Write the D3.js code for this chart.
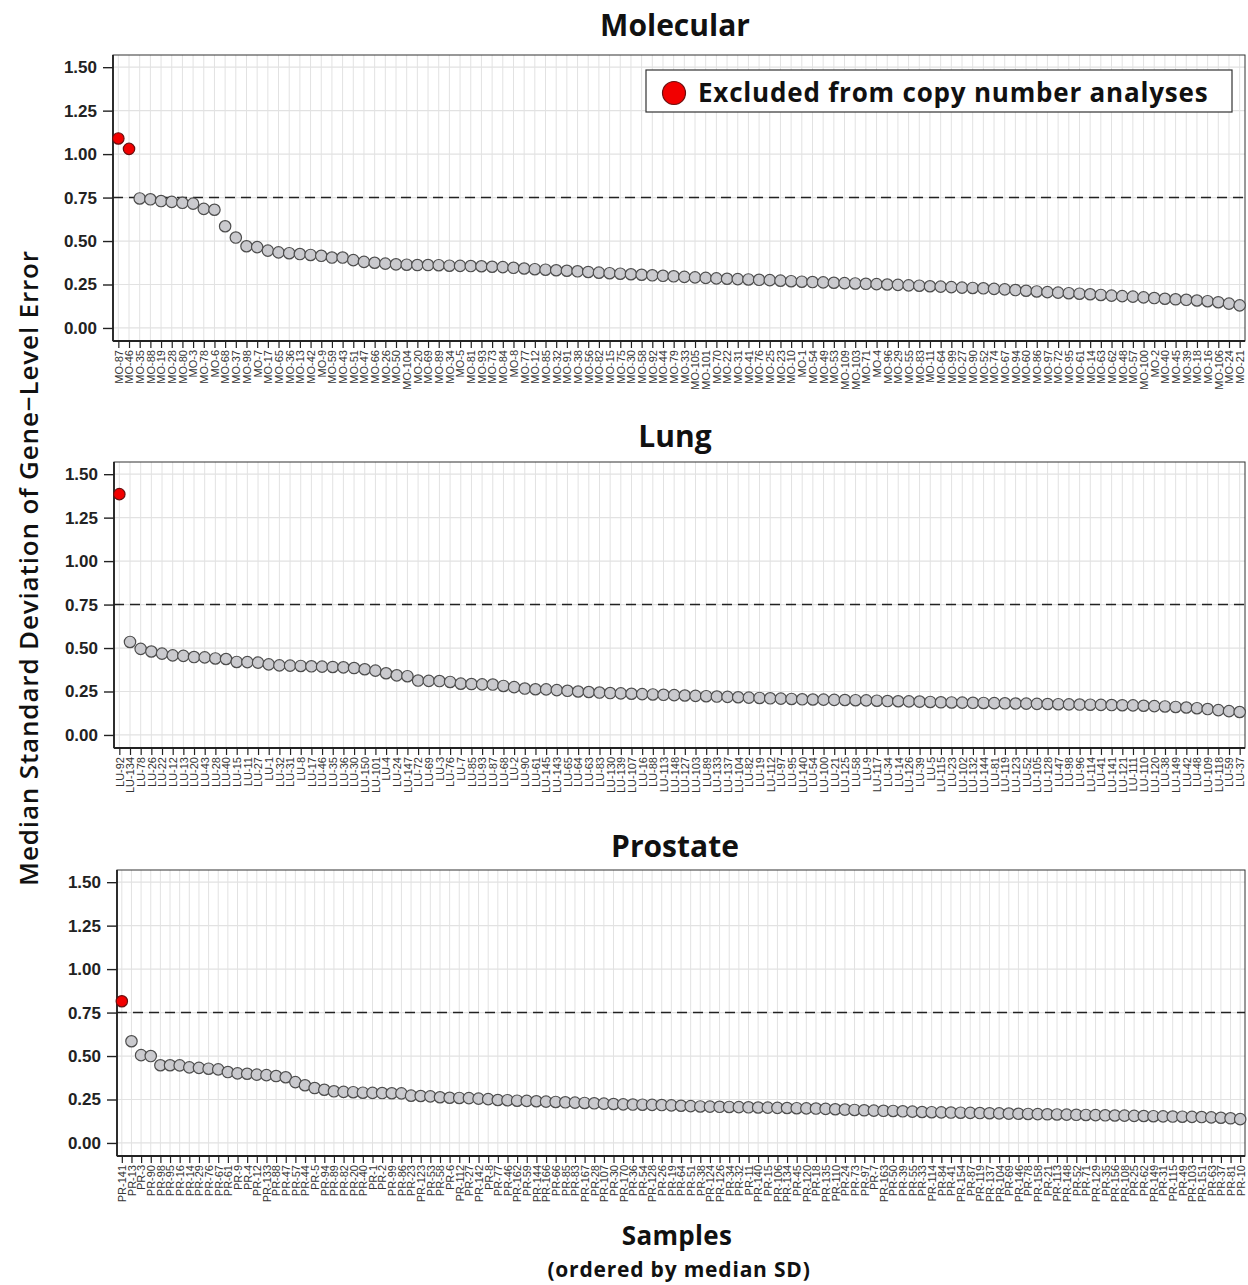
<!DOCTYPE html>
<html>
<head>
<meta charset="utf-8">
<script src="https://cdn.jsdelivr.net/npm/d3@7"></script>
<style>
  body { margin: 0; background: #fff; }
  svg { display: block; font-family: "Open Sans", sans-serif; }
</style>
</head>
<body>
<svg id="chart"></svg>
<script>
// ---- data ----
const moLabels = [
  'MO-87','MO-46','MO-35','MO-88','MO-19','MO-28','MO-80','MO-3','MO-78','MO-6',
  'MO-68','MO-37','MO-98','MO-7','MO-17','MO-65','MO-36','MO-13','MO-42','MO-9',
  'MO-59','MO-43','MO-51','MO-47','MO-66','MO-26','MO-50','MO-104','MO-20','MO-69',
  'MO-89','MO-34','MO-5','MO-81','MO-93','MO-73','MO-84','MO-8','MO-77','MO-12',
  'MO-85','MO-32','MO-91','MO-38','MO-56','MO-82','MO-15','MO-75','MO-30','MO-58',
  'MO-92','MO-44','MO-79','MO-33','MO-105','MO-101','MO-70','MO-22','MO-31','MO-41',
  'MO-76','MO-25','MO-23','MO-10','MO-1','MO-54','MO-49','MO-53','MO-109','MO-103',
  'MO-71','MO-4','MO-96','MO-29','MO-55','MO-83','MO-11','MO-64','MO-99','MO-27',
  'MO-90','MO-52','MO-74','MO-67','MO-94','MO-60','MO-86','MO-97','MO-72','MO-95',
  'MO-61','MO-14','MO-63','MO-62','MO-48','MO-57','MO-100','MO-2','MO-40','MO-45',
  'MO-39','MO-18','MO-16','MO-106','MO-24','MO-21'
];
const moValues = [
  1.09, 1.03, 0.745, 0.74, 0.73, 0.725, 0.72, 0.715, 0.685, 0.68,
  0.585, 0.52, 0.47, 0.465, 0.445, 0.435, 0.43, 0.425, 0.42, 0.415,
  0.405, 0.405, 0.39, 0.38, 0.375, 0.37, 0.366, 0.364, 0.362, 0.362,
  0.361, 0.358, 0.357, 0.356, 0.355, 0.352, 0.35, 0.346, 0.342, 0.338,
  0.335, 0.332, 0.329, 0.326, 0.322, 0.318, 0.315, 0.312, 0.309, 0.306,
  0.303, 0.300, 0.297, 0.294, 0.291, 0.288, 0.285, 0.283, 0.281, 0.279,
  0.277, 0.275, 0.272, 0.269, 0.266, 0.264, 0.262, 0.26, 0.258, 0.256,
  0.254, 0.252, 0.25, 0.248, 0.245, 0.243, 0.24, 0.238, 0.235, 0.232,
  0.23, 0.228, 0.225, 0.222, 0.218, 0.214, 0.21, 0.206, 0.203, 0.2,
  0.197, 0.194, 0.19, 0.186, 0.183, 0.18, 0.176, 0.172, 0.168, 0.165,
  0.162, 0.158, 0.154, 0.148, 0.14, 0.13
];

const luLabels = [
  'LU-92','LU-134','LU-78','LU-26','LU-22','LU-12','LU-13','LU-20','LU-43','LU-28',
  'LU-40','LU-15','LU-11','LU-27','LU-1','LU-32','LU-31','LU-8','LU-17','LU-46',
  'LU-35','LU-36','LU-30','LU-150','LU-101','LU-4','LU-24','LU-147','LU-72','LU-69',
  'LU-3','LU-76','LU-7','LU-85','LU-93','LU-87','LU-68','LU-2','LU-90','LU-61',
  'LU-145','LU-143','LU-65','LU-64','LU-63','LU-83','LU-130','LU-139','LU-107','LU-16',
  'LU-88','LU-113','LU-148','LU-127','LU-103','LU-89','LU-133','LU-137','LU-104','LU-82',
  'LU-19','LU-112','LU-97','LU-95','LU-140','LU-54','LU-100','LU-21','LU-125','LU-58',
  'LU-9','LU-117','LU-34','LU-14','LU-126','LU-39','LU-5','LU-115','LU-23','LU-102',
  'LU-132','LU-144','LU-81','LU-119','LU-123','LU-52','LU-105','LU-128','LU-47','LU-98',
  'LU-96','LU-114','LU-41','LU-141','LU-121','LU-111','LU-110','LU-120','LU-38','LU-149',
  'LU-42','LU-48','LU-109','LU-118','LU-59','LU-37'
];
const luValues = [
  1.385, 0.535, 0.495, 0.48, 0.468, 0.458, 0.455, 0.448, 0.446, 0.44,
  0.437, 0.42, 0.419, 0.416, 0.406, 0.40, 0.399, 0.397, 0.395, 0.393,
  0.391, 0.389, 0.385, 0.378, 0.37, 0.355, 0.343, 0.338, 0.313, 0.311,
  0.31, 0.305, 0.295, 0.293, 0.291, 0.29, 0.282, 0.275, 0.267, 0.263,
  0.262, 0.258, 0.254, 0.25, 0.247, 0.244, 0.241, 0.239, 0.237, 0.235,
  0.233, 0.231, 0.229, 0.227, 0.225, 0.223, 0.221, 0.219, 0.217, 0.215,
  0.213, 0.211, 0.209, 0.207, 0.205, 0.204, 0.203, 0.202, 0.201, 0.20,
  0.199, 0.197, 0.195, 0.194, 0.193, 0.192, 0.19, 0.188, 0.187, 0.186,
  0.185, 0.184, 0.183, 0.182, 0.181, 0.18, 0.179, 0.178, 0.177, 0.176,
  0.175, 0.174, 0.173, 0.172, 0.171, 0.17, 0.168, 0.166, 0.164, 0.161,
  0.158, 0.154, 0.149, 0.143, 0.137, 0.132
];

const prLabels = [
  'PR-141','PR-13','PR-3','PR-90','PR-98','PR-95','PR-16','PR-14','PR-29','PR-76',
  'PR-67','PR-61','PR-9','PR-4','PR-12','PR-133','PR-88','PR-47','PR-57','PR-44',
  'PR-5','PR-94','PR-89','PR-82','PR-20','PR-40','PR-1','PR-2','PR-99','PR-86',
  'PR-23','PR-123','PR-53','PR-58','PR-6','PR-112','PR-27','PR-142','PR-8','PR-77',
  'PR-46','PR-162','PR-59','PR-144','PR-166','PR-66','PR-85','PR-83','PR-167','PR-28',
  'PR-107','PR-30','PR-170','PR-36','PR-54','PR-128','PR-26','PR-19','PR-64','PR-51',
  'PR-38','PR-124','PR-126','PR-34','PR-32','PR-11','PR-140','PR-15','PR-106','PR-134',
  'PR-45','PR-120','PR-18','PR-135','PR-110','PR-24','PR-73','PR-97','PR-7','PR-163',
  'PR-50','PR-39','PR-55','PR-33','PR-114','PR-84','PR-41','PR-154','PR-87','PR-119',
  'PR-137','PR-104','PR-69','PR-146','PR-78','PR-158','PR-21','PR-113','PR-148','PR-52',
  'PR-71','PR-129','PR-35','PR-156','PR-108','PR-25','PR-62','PR-149','PR-31','PR-115',
  'PR-49','PR-103','PR-151','PR-63','PR-37','PR-81','PR-10'
];
const prValues = [
  0.815, 0.585, 0.505, 0.50, 0.447, 0.447, 0.446, 0.435, 0.432, 0.427,
  0.423, 0.408, 0.40, 0.398, 0.393, 0.39, 0.385, 0.378, 0.35, 0.332,
  0.316, 0.306, 0.297, 0.294, 0.292, 0.289, 0.288, 0.287, 0.286, 0.285,
  0.272, 0.27, 0.268, 0.263, 0.26, 0.259, 0.258, 0.255, 0.252, 0.247,
  0.246, 0.243, 0.242, 0.24, 0.238, 0.236, 0.234, 0.232, 0.23, 0.228,
  0.226, 0.224, 0.222, 0.221, 0.22, 0.219, 0.218, 0.216, 0.214, 0.212,
  0.21, 0.209, 0.208, 0.207, 0.206, 0.205, 0.204, 0.203, 0.202, 0.201,
  0.20, 0.199, 0.198, 0.196, 0.194, 0.192, 0.19, 0.188, 0.186, 0.185,
  0.184, 0.182, 0.18, 0.178, 0.177, 0.176, 0.175, 0.174, 0.173, 0.172,
  0.171, 0.17, 0.169, 0.168, 0.167, 0.166, 0.165, 0.164, 0.163, 0.162,
  0.161, 0.16, 0.159, 0.158, 0.157, 0.156, 0.155, 0.154, 0.153, 0.152,
  0.151, 0.15, 0.149, 0.147, 0.145, 0.142, 0.137
];

const yTicks = [0, 0.25, 0.5, 0.75, 1.0, 1.25, 1.5];
const cutoff = 0.75;
const legendText = 'Excluded from copy number analyses';

// ---- layout ----
const width = 1248;
const height = 1285;
const right = 1245;
const panelH = 286;

const panels = [
  { title: 'Molecular', labels: moLabels, values: moValues, top: 55, left: 113, titleY: 36, legend: true },
  { title: 'Lung', labels: luLabels, values: luValues, top: 462, left: 114, titleY: 447 },
  { title: 'Prostate', labels: prLabels, values: prValues, top: 870, left: 117, titleY: 857 }
];

const svg = d3.select('#chart')
  .attr('width', width)
  .attr('height', height);

const drawPanel = (p) => {
  const bottom = p.top + panelH;
  const idx = d3.range(p.values.length);

  const x = d3.scalePoint()
    .domain(idx)
    .range([p.left, right])
    .padding(0.5);

  const y = d3.scaleLinear()
    .domain([-0.075, 1.57])
    .range([bottom, p.top]);

  const g = svg.append('g');

  // grid
  g.append('g').selectAll('line')
    .data(idx)
    .enter().append('line')
    .attr('x1', i => x(i)).attr('x2', i => x(i))
    .attr('y1', p.top).attr('y2', bottom)
    .attr('stroke', '#e2e2e2').attr('stroke-width', 1);

  g.append('g').selectAll('line')
    .data(yTicks)
    .enter().append('line')
    .attr('x1', p.left).attr('x2', right)
    .attr('y1', d => y(d)).attr('y2', d => y(d))
    .attr('stroke', '#e2e2e2').attr('stroke-width', 1.2);

  // frame
  g.append('rect')
    .attr('x', p.left).attr('y', p.top)
    .attr('width', right - p.left).attr('height', panelH)
    .attr('fill', 'none').attr('stroke', '#333').attr('stroke-width', 1);

  // cut-off line
  g.append('line')
    .attr('x1', p.left).attr('x2', right)
    .attr('y1', y(cutoff)).attr('y2', y(cutoff))
    .attr('stroke', '#222').attr('stroke-width', 1.4)
    .attr('stroke-dasharray', '10,6');

  // axes
  const yAxis = d3.axisLeft(y)
    .tickValues(yTicks)
    .tickFormat(d3.format('.2f'))
    .tickSize(10)
    .tickPadding(6);

  const ya = g.append('g')
    .attr('transform', 'translate(' + p.left + ',0)')
    .call(yAxis);
  ya.select('.domain').remove();
  ya.selectAll('line').attr('stroke', '#222').attr('stroke-width', 1.4);
  ya.selectAll('text')
    .attr('fill', '#222')
    .style('font-size', '17px')
    .style('font-weight', '600');

  const xAxis = d3.axisBottom(x)
    .tickFormat(i => p.labels[i])
    .tickSize(7)
    .tickSizeOuter(0);

  const xa = g.append('g')
    .attr('transform', 'translate(0,' + bottom + ')')
    .call(xAxis);
  xa.select('.domain').remove();
  xa.selectAll('line').attr('stroke', '#222').attr('stroke-width', 1.2);
  xa.selectAll('text')
    .attr('transform', 'rotate(-90)')
    .attr('text-anchor', 'end')
    .attr('x', -9)
    .attr('y', 0)
    .attr('dy', '0.35em')
    .attr('fill', '#333')
    .style('font-size', '11px');

  // axis lines
  g.append('line')
    .attr('x1', p.left).attr('x2', p.left)
    .attr('y1', p.top).attr('y2', bottom)
    .attr('stroke', '#222').attr('stroke-width', 1.8);
  g.append('line')
    .attr('x1', p.left).attr('x2', right)
    .attr('y1', bottom).attr('y2', bottom)
    .attr('stroke', '#222').attr('stroke-width', 1.8);

  // points
  g.append('g').selectAll('circle')
    .data(idx)
    .enter().append('circle')
    .attr('cx', i => x(i))
    .attr('cy', i => y(p.values[i]))
    .attr('r', 5.7)
    .attr('fill', i => p.values[i] > cutoff ? '#f20000' : '#cacace')
    .attr('stroke', i => p.values[i] > cutoff ? '#6a1010' : '#4d4d4d')
    .attr('stroke-width', 1.2);

  // title
  svg.append('text')
    .attr('x', 675)
    .attr('y', p.titleY)
    .attr('text-anchor', 'middle')
    .attr('fill', '#111')
    .style('font-size', '30px')
    .style('font-weight', '700')
    .text(p.title);

  if (p.legend) {
    const lg = svg.append('g');
    lg.append('rect')
      .attr('x', 646).attr('y', 70)
      .attr('width', 586).attr('height', 42)
      .attr('fill', '#fff').attr('stroke', '#333').attr('stroke-width', 1.2);
    lg.append('circle')
      .attr('cx', 674).attr('cy', 93).attr('r', 11.5)
      .attr('fill', '#f20000').attr('stroke', '#6a1010').attr('stroke-width', 1.2);
    lg.append('text')
      .attr('x', 698).attr('y', 102)
      .attr('fill', '#111')
      .style('font-size', '26px')
      .style('font-weight', '700')
      .style('letter-spacing', '0.8px')
      .text(legendText);
  }
};

panels.forEach(drawPanel);

// shared axis titles
svg.append('text')
  .attr('transform', 'translate(38,568) rotate(-90)')
  .attr('text-anchor', 'middle')
  .attr('fill', '#111')
  .style('font-size', '26px')
  .style('font-weight', '600')
  .style('letter-spacing', '0.85px')
  .text('Median Standard Deviation of Gene\u2212Level Error');

svg.append('text')
  .attr('x', 677).attr('y', 1245)
  .attr('text-anchor', 'middle')
  .attr('fill', '#111')
  .style('font-size', '26px')
  .style('font-weight', '700')
  .style('letter-spacing', '0.3px')
  .text('Samples');

svg.append('text')
  .attr('x', 679).attr('y', 1277)
  .attr('text-anchor', 'middle')
  .attr('fill', '#111')
  .style('font-size', '21px')
  .style('font-weight', '700')
  .style('letter-spacing', '0.8px')
  .text('(ordered by median SD)');
</script>
</body>
</html>
